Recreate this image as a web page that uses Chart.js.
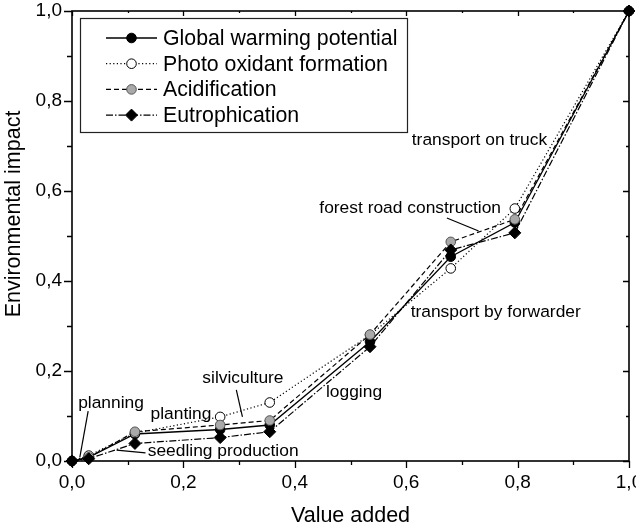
<!DOCTYPE html>
<html>
<head>
<meta charset="utf-8">
<script src="https://cdn.jsdelivr.net/npm/chart.js@4/dist/chart.umd.min.js"></script>
<style>
  html, body { margin: 0; padding: 0; background: #fff; }
  #wrap { width: 636px; height: 529px; }
</style>
</head>
<body>
<div id="wrap"><canvas id="c" width="636" height="529"></canvas></div>
<script>
// Cumulative share of value added along the wood supply chain (x)
const valueAdded = [0, 0.03, 0.113, 0.266, 0.355, 0.535, 0.68, 0.795, 1.0];

// Cumulative share of each environmental impact category (y)
const globalWarming  = [0, 0.008, 0.060, 0.070, 0.080, 0.265, 0.454, 0.530, 1.0];
const photoOxidant   = [0, 0.012, 0.062, 0.098, 0.130, 0.280, 0.428, 0.561, 1.0];
const acidification  = [0, 0.008, 0.065, 0.080, 0.090, 0.281, 0.487, 0.537, 1.0];
const eutrophication = [0, 0.005, 0.039, 0.052, 0.065, 0.254, 0.469, 0.507, 1.0];

const seriesNames = ['Global warming potential', 'Photo oxidant formation', 'Acidification', 'Eutrophication'];

// Axis tick values and titles
const tickValues = [0, 0.2, 0.4, 0.6, 0.8, 1.0];
const xTitle = 'Value added';
const yTitle = 'Environmental impact';

// Supply-chain stage labels: text, anchor (data units), optional leader line (data units)
const stageLabels = ['planning', 'seedling production', 'planting', 'silviculture', 'logging',
                     'transport by forwarder', 'forest road construction', 'transport on truck'];
const stageAnchorX = [0.011, 0.136, 0.141, 0.234, 0.456, 0.608, 0.444, 0.610];
const stageAnchorY = [0.129, 0.022, 0.104, 0.184, 0.153, 0.331, 0.562, 0.713];
const stageLeaders = [
  [0.029, 0.111, 0.014, 0.008],
  [0.080, 0.024, 0.132, 0.018],
  null,
  [0.295, 0.158, 0.306, 0.098],
  null,
  null,
  [0.673, 0.540, 0.730, 0.511],
  null
];

const FONT = '"Liberation Sans", Arial, Helvetica, sans-serif';

const toPoints = ys => ys.map((y, i) => ({ x: valueAdded[i], y }));
const fmt = v => v.toFixed(1).replace('.', ',');

const datasets = [
  { label: seriesNames[0], data: toPoints(globalWarming), borderColor: '#000', borderWidth: 1.3,
    borderDash: [], pointStyle: 'circle', pointRadius: 4.8, pointBackgroundColor: '#000',
    pointBorderColor: '#000', order: 4 },
  { label: seriesNames[1], data: toPoints(photoOxidant), borderColor: '#000', borderWidth: 1.2,
    borderDash: [1.2, 2.4], pointStyle: 'circle', pointRadius: 4.8, pointBackgroundColor: '#fff',
    pointBorderColor: '#000', order: 3 },
  { label: seriesNames[2], data: toPoints(acidification), borderColor: '#000', borderWidth: 1.2,
    borderDash: [5, 3], pointStyle: 'circle', pointRadius: 4.8, pointBackgroundColor: '#a9a9a9',
    pointBorderColor: '#555', order: 2 },
  { label: seriesNames[3], data: toPoints(eutrophication), borderColor: '#000', borderWidth: 1.2,
    borderDash: [7, 2, 1.5, 2], pointStyle: 'rectRot', pointRadius: 6, pointBackgroundColor: '#000',
    pointBorderColor: '#000', order: 1 }
];
datasets.forEach(d => { d.pointBorderWidth = 1; d.fill = false; d.tension = 0; d.showLine = true; });

// Frame with tick marks on all four sides, plus the vertical axis title
const framePlugin = {
  id: 'frame',
  afterDatasetsDraw(chart) {
    const { ctx, chartArea: a, scales: { x, y } } = chart;
    ctx.save();
    ctx.strokeStyle = '#000';
    ctx.lineWidth = 1.6;
    ctx.strokeRect(a.left, a.top, a.right - a.left, a.bottom - a.top);
    ctx.lineWidth = 1.3;
    ctx.beginPath();
    for (let i = 0; i <= 10; i++) {
      const v = i / 10;
      const major = i % 2 === 0;
      const len = major ? 7 : 4;
      const px = Math.round(x.getPixelForValue(v)) + 0.5;
      const py = Math.round(y.getPixelForValue(v)) + 0.5;
      ctx.moveTo(px, a.bottom); ctx.lineTo(px, a.bottom + len);      // bottom: outward
      ctx.moveTo(px, a.top); ctx.lineTo(px, a.top + len - 2);        // top: inward
      ctx.moveTo(a.left, py); ctx.lineTo(a.left - len - 1, py);      // left: outward
      ctx.moveTo(a.right, py); ctx.lineTo(a.right - len + 1, py);    // right: inward
    }
    ctx.stroke();

    ctx.fillStyle = '#000';
    ctx.font = '21.5px ' + FONT;
    ctx.textAlign = 'center';
    ctx.textBaseline = 'middle';
    ctx.translate(14, 214);
    ctx.rotate(-Math.PI / 2);
    ctx.fillText(yTitle, 0, 0);
    ctx.restore();
  }
};

// Stage names with leader lines
const stagePlugin = {
  id: 'stages',
  afterDatasetsDraw(chart) {
    const { ctx, scales: { x, y } } = chart;
    ctx.save();
    ctx.fillStyle = '#000';
    ctx.strokeStyle = '#000';
    ctx.lineWidth = 1.2;
    ctx.font = '17.4px ' + FONT;
    ctx.textAlign = 'left';
    ctx.textBaseline = 'middle';
    stageLabels.forEach((t, i) => {
      ctx.fillText(t, x.getPixelForValue(stageAnchorX[i]), y.getPixelForValue(stageAnchorY[i]));
      const l = stageLeaders[i];
      if (l) {
        ctx.beginPath();
        ctx.moveTo(x.getPixelForValue(l[0]), y.getPixelForValue(l[1]));
        ctx.lineTo(x.getPixelForValue(l[2]), y.getPixelForValue(l[3]));
        ctx.stroke();
      }
    });
    ctx.restore();
  }
};

// Boxed legend with line-and-marker samples
const legendPlugin = {
  id: 'boxLegend',
  afterDraw(chart) {
    const { ctx } = chart;
    const box = { left: 80.5, top: 18.5, width: 327, height: 114 };
    ctx.save();
    ctx.fillStyle = '#fff';
    ctx.fillRect(box.left, box.top, box.width, box.height);
    ctx.strokeStyle = '#222';
    ctx.lineWidth = 1.2;
    ctx.strokeRect(box.left, box.top, box.width, box.height);
    ctx.font = '21.3px ' + FONT;
    ctx.textBaseline = 'middle';
    ctx.textAlign = 'left';
    chart.data.datasets.forEach((d, i) => {
      const cy = 38 + i * 25.7;
      const mx = 131.5;
      ctx.strokeStyle = d.borderColor;
      ctx.lineWidth = d.borderWidth;
      ctx.setLineDash(d.borderDash);
      ctx.beginPath();
      ctx.moveTo(106, cy); ctx.lineTo(157, cy);
      ctx.stroke();
      ctx.setLineDash([]);
      ctx.fillStyle = d.pointBackgroundColor;
      ctx.strokeStyle = d.pointBorderColor;
      ctx.lineWidth = 1;
      Chart.helpers.drawPoint(ctx, { pointStyle: d.pointStyle, radius: d.pointRadius, rotation: 0,
        borderWidth: 1 }, mx, cy);
      ctx.fillStyle = '#000';
      ctx.fillText(d.label, 163, cy + 1);
    });
    ctx.restore();
  }
};

new Chart(document.getElementById('c'), {
  type: 'line',
  data: { datasets },
  options: {
    responsive: false,
    animation: false,
    devicePixelRatio: 1,
    clip: false,
    layout: { padding: { top: 11, right: 5, left: 0, bottom: 0 } },
    plugins: { legend: { display: false }, tooltip: { enabled: false } },
    scales: {
      x: {
        type: 'linear', min: 0, max: 1,
        afterBuildTicks: s => { s.ticks = tickValues.map(v => ({ value: v })); },
        ticks: { callback: v => fmt(v), color: '#000', font: { family: FONT, size: 19 }, padding: 10,
                 maxRotation: 0, autoSkip: false },
        grid: { display: false, drawTicks: false },
        border: { display: false },
        title: { display: true, text: xTitle, color: '#000', font: { family: FONT, size: 21.5 },
                 padding: { top: 6, bottom: 0 } },
        afterFit: s => { s.height = 68; s.paddingLeft = 0; s.paddingRight = 0; }
      },
      y: {
        type: 'linear', min: 0, max: 1,
        afterBuildTicks: s => { s.ticks = tickValues.map(v => ({ value: v })); },
        ticks: { callback: v => fmt(v), color: '#000', font: { family: FONT, size: 19 }, padding: 10,
                 autoSkip: false },
        grid: { display: false, drawTicks: false },
        border: { display: false },
        title: { display: false },
        afterFit: s => { s.width = 72; s.paddingTop = 0; s.paddingBottom = 0; }
      }
    }
  },
  plugins: [framePlugin, stagePlugin, legendPlugin]
});
</script>
</body>
</html>
